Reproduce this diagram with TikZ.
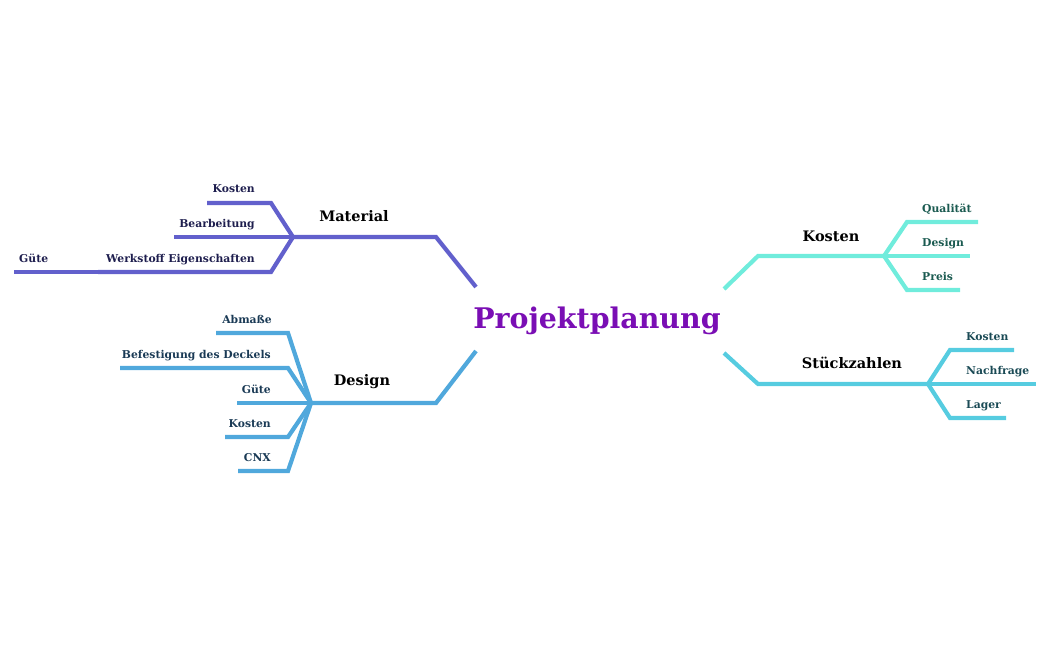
\documentclass[tikz,border=0pt]{standalone}
\usepackage{fontspec}
\setmainfont{DejaVu Serif}
\usetikzlibrary{positioning}
\definecolor{matcol}{RGB}{98,96,204}
\definecolor{descol}{RGB}{80,168,220}
\definecolor{koscol}{RGB}{112,236,220}
\definecolor{stkcol}{RGB}{86,204,224}
\definecolor{centcol}{RGB}{122,14,180}
\tikzset{
  % Branch lines
  branch/.style={line width=4.2pt, line join=miter},
  % Center topic
  topic/.style={font=\bfseries\fontsize{28.4}{32}\selectfont, text=centcol, inner sep=0pt},
  % Main branch labels
  mainlbl/.style={font=\bfseries\fontsize{14.5}{17}\selectfont, text=black, inner sep=0pt},
  % Leaf labels
  leaf/.style={font=\bfseries\fontsize{10.8}{13}\selectfont, inner sep=0pt},
}

\begin{document}
\begin{tikzpicture}[x=1pt, y=-1pt]
  \useasboundingbox (0,0) rectangle (1050,650);

  \node[topic] (top) at (597,321) {Projektplanung};

  % Material
  \coordinate (mat0) at (476,287);
  \coordinate (mat1) at (436,237);
  \coordinate (matj) at (293,237);
  \node[mainlbl] (mat) at (354,216) {Material};
  \draw[branch, matcol] (mat0) -- (mat1) -- (matj);
  \coordinate (mk1) at (271,203); \coordinate (mk2) at (207,203);
  \coordinate (mb2) at (174,237);
  \coordinate (mw1) at (271,272); \coordinate (mw2) at (98,272);
  \coordinate (mg2) at (14,272);
  \draw[branch, matcol] (matj) -- (mk1) -- (mk2);
  \draw[branch, matcol] (matj) -- (mb2);
  \draw[branch, matcol] (matj) -- (mw1) -- (mw2);
  \draw[branch, matcol] (mw2) -- (mg2);
  \begin{scope}[every node/.style={leaf, text={rgb,255:red,30;green,30;blue,78}, anchor=base east}]
    \node (matkos) at (255,193) {Kosten};
    \node (matbea) at (255,227) {Bearbeitung};
    \node (matwer) at (255,262) {Werkstoff Eigenschaften};
    \node[anchor=base west] (matgue) at (19,262) {Güte};
  \end{scope}

  % Design
  \coordinate (des0) at (476,351);
  \coordinate (des1) at (436,403);
  \coordinate (desj) at (311,403);
  \node[mainlbl] (des) at (362,382) {Design};
  \draw[branch, descol] (des0) -- (des1) -- (desj);
  \coordinate (da1) at (288,333); \coordinate (da2) at (216,333);
  \coordinate (db1) at (288,368); \coordinate (db2) at (120,368);
  \coordinate (dg2) at (237,403);
  \coordinate (dk1) at (288,437); \coordinate (dk2) at (225,437);
  \coordinate (dc1) at (288,471); \coordinate (dc2) at (238,471);
  \draw[branch, descol] (desj) -- (da1) -- (da2);
  \draw[branch, descol] (desj) -- (db1) -- (db2);
  \draw[branch, descol] (desj) -- (dg2);
  \draw[branch, descol] (desj) -- (dk1) -- (dk2);
  \draw[branch, descol] (desj) -- (dc1) -- (dc2);
  \begin{scope}[every node/.style={leaf, text={rgb,255:red,26;green,58;blue,85}, anchor=base east}]
    \node (desabm) at (272,323) {Abmaße};
    \node (desbef) at (271,358) {Befestigung des Deckels};
    \node (desgue) at (271,393) {Güte};
    \node (deskos) at (271,427) {Kosten};
    \node (descnx) at (271,461) {CNX};
  \end{scope}

  % Kosten
  \coordinate (kos0) at (724,289);
  \coordinate (kos1) at (758,256);
  \coordinate (kosj) at (884,256);
  \node[mainlbl] (kos) at (831,236) {Kosten};
  \draw[branch, koscol] (kos0) -- (kos1) -- (kosj);
  \coordinate (kq1) at (907,222); \coordinate (kq2) at (978,222);
  \coordinate (kd2) at (970,256);
  \coordinate (kp1) at (907,290); \coordinate (kp2) at (960,290);
  \draw[branch, koscol] (kosj) -- (kq1) -- (kq2);
  \draw[branch, koscol] (kosj) -- (kd2);
  \draw[branch, koscol] (kosj) -- (kp1) -- (kp2);
  \begin{scope}[every node/.style={leaf, text={rgb,255:red,26;green,90;blue,80}, anchor=base west}]
    \node (kosqua) at (922,212) {Qualität};
    \node (kosdes) at (922,246) {Design};
    \node (kospre) at (922,280) {Preis};
  \end{scope}

  % Stueckzahlen
  \coordinate (stk0) at (724,353);
  \coordinate (stk1) at (758,384);
  \coordinate (stkj) at (928,384);
  \node[mainlbl] (stk) at (852,363) {Stückzahlen};
  \draw[branch, stkcol] (stk0) -- (stk1) -- (stkj);
  \coordinate (sk1) at (950,350); \coordinate (sk2) at (1014,350);
  \coordinate (sn2) at (1036,384);
  \coordinate (sl1) at (950,418); \coordinate (sl2) at (1006,418);
  \draw[branch, stkcol] (stkj) -- (sk1) -- (sk2);
  \draw[branch, stkcol] (stkj) -- (sn2);
  \draw[branch, stkcol] (stkj) -- (sl1) -- (sl2);
  \begin{scope}[every node/.style={leaf, text={rgb,255:red,26;green,74;blue,85}, anchor=base west}]
    \node (stkkos) at (966,340) {Kosten};
    \node (stknac) at (966,374) {Nachfrage};
    \node (stklag) at (966,408) {Lager};
  \end{scope}
\end{tikzpicture}
\end{document}
